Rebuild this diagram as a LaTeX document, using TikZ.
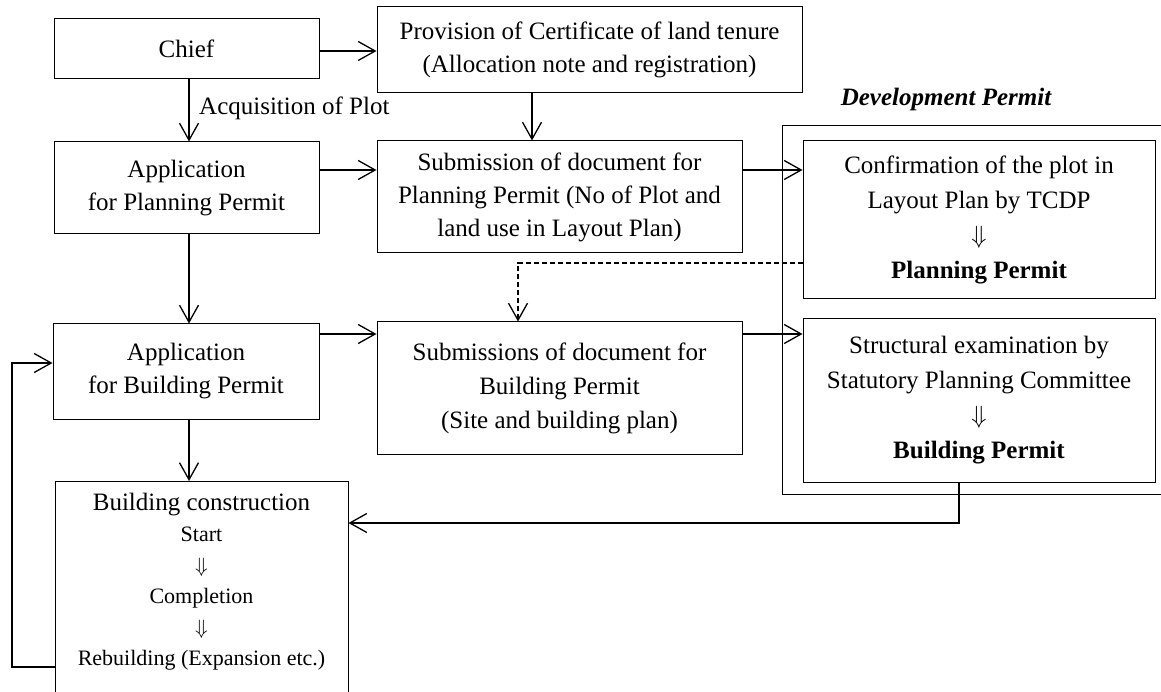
\documentclass[tikz,border=0pt]{standalone}
\usepackage{fontspec}
\setmainfont{Liberation Serif}
\usetikzlibrary{arrows.meta}
\begin{document}
\begin{tikzpicture}[x=1pt,y=-1pt,
  box/.style={draw, line width=1pt, inner sep=0pt, align=center, font=\fontsize{25}{33}\selectfont},
  arr/.style={line width=1.3pt, -{Straight Barb[length=17pt,width=19pt,line width=1.3pt]}},
  dasharr/.style={arr, dash pattern=on 5pt off 3pt},
  lbl/.style={inner sep=0pt, font=\fontsize{25}{30}\selectfont},
]
\useasboundingbox (0,0) rectangle (1161,692);

% boxes
\node[box, minimum width=265pt, minimum height=60pt] (chief) at (186.5,49) {Chief};
\node[box, minimum width=425pt, minimum height=86pt] (prov) at (589.5,50)
  {Provision of Certificate of land tenure\\(Allocation note and registration)};
\node[box, minimum width=265pt, minimum height=92pt] (appplan) at (186.5,188)
  {Application\\for Planning Permit};
\node[box, minimum width=365pt, minimum height=112pt] (subplan) at (559.5,197)
  {Submission of document for\\Planning Permit (No of Plot and\\land use in Layout Plan)};
\node[box, minimum width=352pt, minimum height=158pt, font=\fontsize{25}{35}\selectfont] (conf) at (979,220)
  {Confirmation of the plot in\\Layout Plan by TCDP\\$\Downarrow$\\\textbf{Planning Permit}};
\node[box, minimum width=266pt, minimum height=95pt] (appbuild) at (186,371.5)
  {Application\\for Building Permit};
\node[box, minimum width=365pt, minimum height=132pt, font=\fontsize{25}{34}\selectfont] (subbuild) at (559.5,388)
  {Submissions of document for\\Building Permit\\(Site and building plan)};
\node[box, minimum width=352pt, minimum height=163pt, font=\fontsize{25}{35}\selectfont] (struct) at (979,400.5)
  {Structural examination by\\Statutory Planning Committee\\$\Downarrow$\\\textbf{Building Permit}};
\node[box, minimum width=293pt, minimum height=235pt, anchor=north] (bc) at (201.5,481) {};
\node[inner sep=0pt, align=center, anchor=north, font=\fontsize{22}{31}\selectfont] (bctext) at (201.5,493)
  {{\fontsize{25}{30}\selectfont Building construction}\\Start\\$\Downarrow$\\Completion\\$\Downarrow$\\Rebuilding (Expansion etc.)};

% development permit frame (open on the right, cut by the page edge)
\node[lbl, font=\fontsize{25}{30}\selectfont\bfseries\itshape] (dp) at (946,99) {Development Permit};
\coordinate (fr1) at (1161,126);
\coordinate (fr2) at (1161,494);
\draw[line width=1pt] (fr1) -- (782,126) -- (782,494) -- (fr2);

% helper coordinates
\coordinate (h52) at (0,51);
\coordinate (h170) at (0,170);
\coordinate (h334) at (0,334);
\coordinate (h263) at (0,263);
\coordinate (h523) at (0,523);
\coordinate (h667) at (0,667);
\coordinate (h363) at (0,363);
\coordinate (v189) at (189,0);
\coordinate (v532) at (532,0);
\coordinate (v518) at (518,0);
\coordinate (v959) at (959,0);

% connectors
\draw[arr] (chief.east |- h52) -- (prov.west |- h52);
\draw[arr] (chief.south -| v189) -- (appplan.north -| v189);
\node[lbl, anchor=west] (acq) at (199,108) {Acquisition of Plot};
\draw[arr] (prov.south -| v532) -- (subplan.north -| v532);
\draw[arr] (appplan.east |- h170) -- (subplan.west |- h170);
\draw[arr] (subplan.east |- h170) -- (conf.west |- h170);
\draw[arr] (appplan.south -| v189) -- (appbuild.north -| v189);
\draw[arr] (appbuild.east |- h334) -- (subbuild.west |- h334);
\draw[arr] (subbuild.east |- h334) -- (struct.west |- h334);
\draw[dasharr] (conf.west |- h263) -- (518,263) -- (subbuild.north -| v518);
\draw[arr] (appbuild.south -| v189) -- (bc.north -| v189);
\draw[arr] (struct.south -| v959) -- (959,523) -- (bc.east |- h523);
\draw[arr] (bc.west |- h667) -- (12,667) -- (12,363) -- (appbuild.west |- h363);
\end{tikzpicture}
\end{document}
